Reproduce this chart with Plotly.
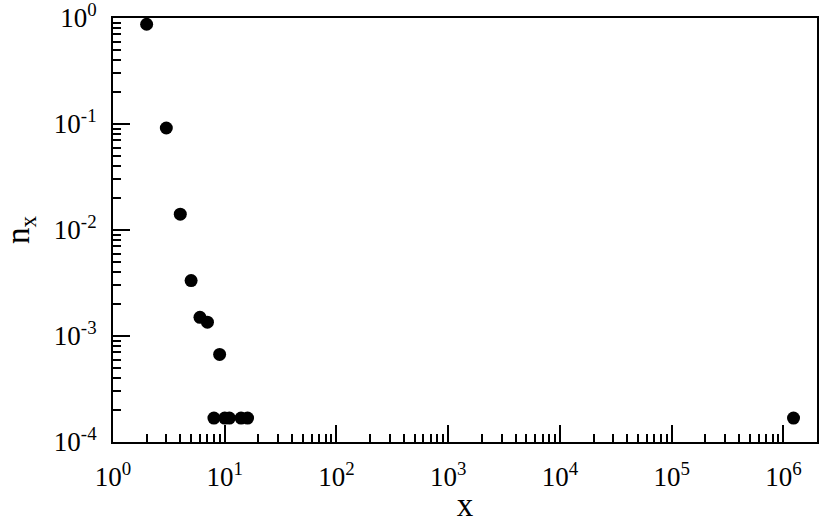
import plotly.graph_objects as go

# cluster size x and fraction n_x
x_vals = [2, 3, 4, 5, 6, 7, 9, 8, 10, 11, 14, 16, 1.23e6]
n_vals = [0.873, 0.0917, 0.0141, 0.00333, 0.0015, 0.00135, 6.7e-4,
          1.68e-4, 1.68e-4, 1.68e-4, 1.68e-4, 1.68e-4, 1.68e-4]

x_tick_vals = [1, 10, 100, 1e3, 1e4, 1e5, 1e6]
x_tick_text = ["10<sup>%d</sup>" % i for i in range(7)]
y_tick_vals = [1, 0.1, 0.01, 1e-3, 1e-4]
y_tick_text = ["10<sup>%d</sup>" % i for i in [0, -1, -2, -3, -4]]

serif = "Liberation Serif"

fig = go.Figure(data=go.Scatter(x=x_vals, y=n_vals, mode="markers",
                                marker=dict(color="black", size=13)))

fig.update_layout(
    width=822, height=523,
    margin=dict(l=113, r=5, t=18, b=81),
    plot_bgcolor="white", paper_bgcolor="white",
    showlegend=False,
    font=dict(family=serif, color="black", size=27),
)
for ax in ["xaxis", "yaxis"]:
    fig.layout[ax].update(
        type="log", showgrid=False, zeroline=False, automargin=False,
        showline=True, linecolor="black", linewidth=2, mirror=True,
        ticks="inside", ticklen=17, tickwidth=2, tickcolor="black",
        minor=dict(ticks="inside", ticklen=8, tickwidth=2,
                   tickcolor="black", dtick="D1"),
        ticklabeloverflow="allow",
        tickfont=dict(family=serif, size=27, color="black"))

fig.update_xaxes(range=[0, 6.3], tickvals=x_tick_vals, ticktext=x_tick_text,
                 ticklabelstandoff=10,
                 title=dict(text="x", font=dict(family=serif, size=33), standoff=11))
fig.update_yaxes(range=[-4, 0], tickvals=y_tick_vals, ticktext=y_tick_text,
                 ticklabelstandoff=9,
                 title=dict(text="n<sub>x</sub>", font=dict(family=serif, size=33), standoff=26))

# drop the default body margin so the figure fills the window
fig.write_html("out.html", config={"displayModeBar": False},
               post_script="document.body.style.margin='0';")
